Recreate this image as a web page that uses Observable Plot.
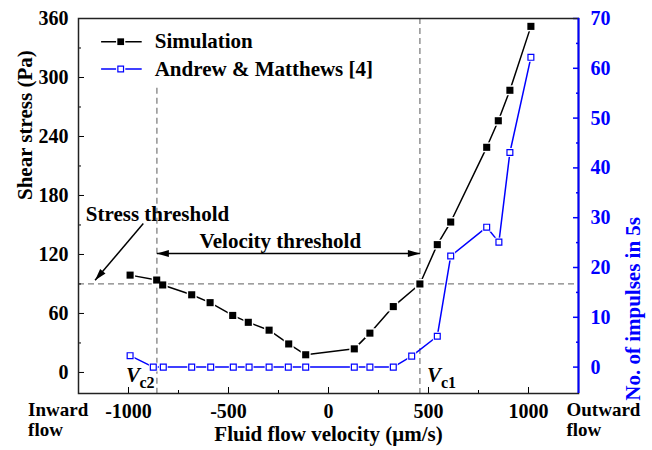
<!DOCTYPE html>
<html><head><meta charset="utf-8">
<script src="https://cdn.jsdelivr.net/npm/d3@7"></script>
<script src="https://cdn.jsdelivr.net/npm/@observablehq/plot@0.6"></script>
<style>html,body{margin:0;padding:0;background:#fff}</style>
</head><body><div id="chart"></div>
<script>
// ---- data ----
const velocitySim = [-992, -859, -829, -684, -592, -479, -401, -297, -199, -114, 129, 207, 324, 457, 544, 611, 791, 849, 907, 1012];
const shearStress = [99, 94, 89, 79, 71, 58, 51, 43, 29, 18, 24, 40, 67, 90, 130, 153, 229, 256, 287, 352];
const velocityExp = [-992, -876, -826, -684, -589, -476, -397, -297, -201, -114, 129, 207, 324, 416, 544, 611, 791, 852, 907, 1012];
const impulses = [2.3, 0, 0, 0, 0, 0, 0, 0, 0, 0, 0, 0, 0, 2.2, 6.2, 22.3, 28.1, 25.1, 43.1, 62.2];
const stressTicks = [0, 60, 120, 180, 240, 300, 360];
const stressMinor = [30, 90, 150, 210, 270, 330];
const impulseTicks = [0, 10, 20, 30, 40, 50, 60, 70];
const impulseMinor = [5, 15, 25, 35, 45, 55, 65];
const velocityTicks = [-1000, -500, 0, 500, 1000];
const velocityMinor = [-750, -250, 250, 750];
const seriesNames = ["Simulation", "Andrew & Matthews [4]"];
const stressThreshold = 90;
const vc2 = -858, vc1 = 457;

const X = [-1250, 1250], YL = [-21.4, 360], YR = [-5.3, 70];
const toLeft = v => YL[0] + (v - YR[0]) * (YL[1] - YL[0]) / (YR[1] - YR[0]);
const toRight = d => YR[0] + (d - YL[0]) * (YR[1] - YR[0]) / (YL[1] - YL[0]);

const sim = velocitySim.map((x, i) => ({x, y: shearStress[i]}));
const exp = velocityExp.map((x, i) => ({x, y: toLeft(impulses[i])}));

const BLUE = "#0000ff";
const GRAY = "#808080";
const FONT = "'Liberation Serif','Times New Roman',serif";
const arrowHead = {draw(ctx) { ctx.moveTo(0, 0); ctx.lineTo(-3.5, 12); ctx.lineTo(3.5, 12); ctx.closePath(); }};
const fmt = d => `${d}`;

const leg = [
  {x1: -1137, x2: -934, xm: -1039, y: 336.4, t: seriesNames[0]},
  {x1: -1137, x2: -934, xm: -1039, y: 308.6, t: seriesNames[1]}
];

const chart = Plot.plot({
  width: 652, height: 450,
  marginLeft: 78, marginRight: 74, marginTop: 18, marginBottom: 57,
  style: {fontFamily: FONT, fontSize: "20px", fontWeight: "bold", background: "#fff", color: "#000", overflow: "visible"},
  x: {domain: X},
  y: {domain: YL},
  marks: [
    // threshold lines
    Plot.ruleY([stressThreshold], {stroke: GRAY, strokeWidth: 1.3, strokeDasharray: "6,4"}),
    Plot.ruleX([{x: vc2, y1: 289, y2: YL[0]}], {x: "x", y1: "y1", y2: "y2", stroke: GRAY, strokeWidth: 1.3, strokeDasharray: "6,4"}),
    Plot.ruleX([{x: vc1, y1: YL[1], y2: YL[0]}], {x: "x", y1: "y1", y2: "y2", stroke: GRAY, strokeWidth: 1.3, strokeDasharray: "6,4"}),
    // axes
    Plot.axisX(velocityTicks, {tickSize: -6, tickPadding: 16, tickFormat: fmt, label: null, fontSize: 20, fontWeight: "bold"}),
    Plot.axisX(velocityMinor, {tickSize: -3, fill: "none", stroke: "black", label: null}),
    Plot.axisY(stressTicks, {anchor: "left", tickSize: -6, tickPadding: 16, tickFormat: fmt, label: null, fontSize: 20, fontWeight: "bold"}),
    Plot.axisY(stressMinor, {anchor: "left", tickSize: -3, fill: "none", stroke: "black", label: null}),
    Plot.axisY(impulseTicks.map(toLeft), {anchor: "right", tickSize: -6, tickPadding: 18, tickFormat: d => `${Math.round(toRight(d))}`, label: null, color: BLUE, strokeWidth: 1.5, fontSize: 20, fontWeight: "bold"}),
    Plot.axisY(impulseMinor.map(toLeft), {anchor: "right", tickSize: -3, fill: "none", stroke: BLUE, strokeWidth: 1.5, label: null}),
    Plot.frame({stroke: "#222", strokeWidth: 1.5}),
    Plot.ruleX([X[1]], {stroke: BLUE, strokeWidth: 2}),
    // series
    Plot.line(exp, {x: "x", y: "y", stroke: BLUE, strokeWidth: 1.5}),
    Plot.line(sim, {x: "x", y: "y", stroke: "black", strokeWidth: 1.5}),
    Plot.dot(exp, {x: "x", y: "y", symbol: "square", r: 5, fill: "#fff"}),
    Plot.dot(sim, {x: "x", y: "y", symbol: "square", r: 5.6, fill: "#fff"}),
    Plot.dot(exp, {x: "x", y: "y", symbol: "square", r: 3.3, fill: "#fff", stroke: BLUE, strokeWidth: 1.2}),
    Plot.dot(sim, {x: "x", y: "y", symbol: "square", r: 4, fill: "black"}),
    // legend
    Plot.link(leg, {x1: "x1", x2: "x2", y1: "y", y2: "y", stroke: (d, i) => i ? BLUE : "black", strokeWidth: 1.5}),
    Plot.dot(leg, {x: "xm", y: "y", symbol: "square", r: 5.2, fill: "#fff"}),
    Plot.dot([leg[0]], {x: "xm", y: "y", symbol: "square", r: 3.8, fill: "black"}),
    Plot.dot([leg[1]], {x: "xm", y: "y", symbol: "square", r: 3.2, fill: "#fff", stroke: BLUE, strokeWidth: 1.2}),
    Plot.text(leg, {x: "x2", y: "y", text: "t", dx: 13, textAnchor: "start", fontSize: 21, fontWeight: "bold", fill: "black"}),
    // annotations
    Plot.text([{x: -855, y: 160.6, t: "Stress threshold"}], {x: "x", y: "y", text: "t", fontSize: 21, fontWeight: "bold"}),
    Plot.link([{x1: -926, y1: 151.4, x2: -1167, y2: 93.7}], {x1: "x1", y1: "y1", x2: "x2", y2: "y2", stroke: "black", strokeWidth: 1.5}),
    Plot.dot([{x: -1167, y: 93.7, r: -140}], {x: "x", y: "y", rotate: "r", symbol: arrowHead, fill: "black", stroke: "none"}),
    Plot.text([{x: -241, y: 133.4, t: "Velocity threshold"}], {x: "x", y: "y", text: "t", fontSize: 21, fontWeight: "bold"}),
    Plot.link([{x1: vc2, x2: vc1, y: 120.9}], {x1: "x1", x2: "x2", y1: "y", y2: "y", stroke: "black", strokeWidth: 1.5}),
    Plot.dot([{x: vc2, y: 120.9, r: -90}, {x: vc1, y: 120.9, r: 90}], {x: "x", y: "y", rotate: "r", symbol: arrowHead, fill: "black", stroke: "none"}),
    // Vc labels
    Plot.text([{x: -1012, y: -3, t: "V"}, {x: 492, y: -3, t: "V"}], {x: "x", y: "y", text: "t", textAnchor: "start", fontSize: 21, fontStyle: "italic", fontWeight: "bold"}),
    Plot.text([{x: -945, y: -10.2, t: "c2"}, {x: 562, y: -10.2, t: "c1"}], {x: "x", y: "y", text: "t", textAnchor: "start", fontSize: 16, fontWeight: "bold"}),
    // flow direction labels
    Plot.text([{x: -1502, t: "Inward\nflow"}, {x: 1190, t: "Outward\nflow"}], {x: "x", text: "t", frameAnchor: "bottom", dy: 9, lineAnchor: "top", lineHeight: 1.02, textAnchor: "start", fontSize: 19, fontWeight: "bold"}),
    // axis titles
    Plot.text(["Fluid flow velocity (\u03bcm/s)"], {text: d => d, frameAnchor: "bottom", dy: 47, fontSize: 21, fontWeight: "bold"}),
    Plot.text(["Shear stress (Pa)"], {text: d => d, frameAnchor: "left", dx: -53, dy: -6, rotate: -90, fontSize: 21, fontWeight: "bold"}),
    Plot.text(["No. of impulses in 5s"], {text: d => d, frameAnchor: "right", dx: 55, dy: 11, rotate: -90, fontSize: 21, fontWeight: "bold", fill: BLUE})
  ]
});
document.getElementById("chart").append(chart);
</script>
</body></html>
